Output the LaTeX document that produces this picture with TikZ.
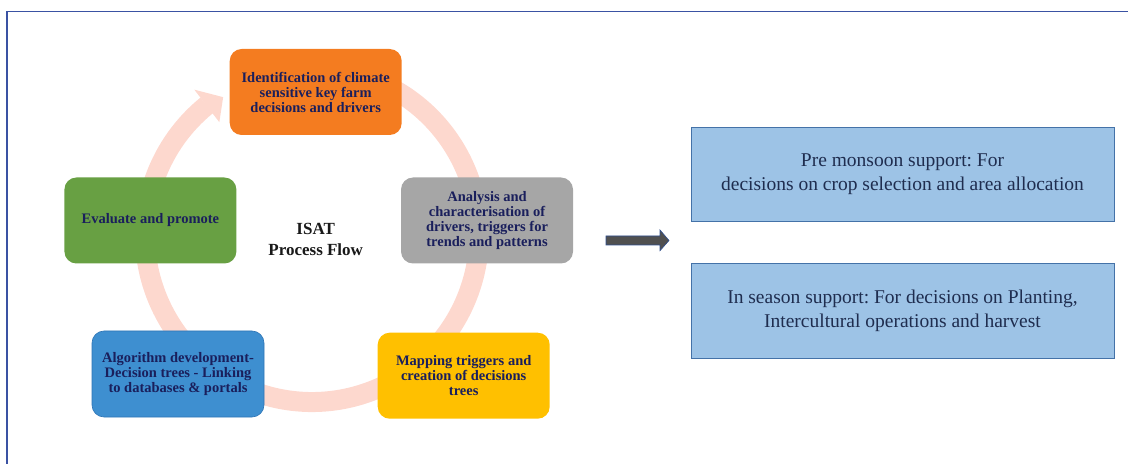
\documentclass[tikz,border=0pt]{standalone}
\usepackage{fontspec}
\setmainfont{Liberation Serif}
\usetikzlibrary{calc}
\definecolor{frameblue}{HTML}{3A52A3}
\definecolor{ringpink}{HTML}{FDD8CE}
\definecolor{corange}{HTML}{F47C20}
\definecolor{cgreen}{HTML}{68A043}
\definecolor{cgray}{HTML}{A6A6A6}
\definecolor{cblue}{HTML}{3E8FD0}
\definecolor{cblueedge}{HTML}{2E75B6}
\definecolor{cyellow}{HTML}{FFC000}
\definecolor{navytext}{HTML}{1A1F5C}
\definecolor{rfill}{HTML}{9DC3E6}
\definecolor{rborder}{HTML}{4472A8}
\definecolor{rtext}{HTML}{1F2D4F}
\definecolor{arrgray}{HTML}{505050}
\definecolor{arrblue}{HTML}{2F4F8F}
\frenchspacing
\begin{document}
\begin{tikzpicture}[x=1pt,y=1pt,
  cyc/.style={rounded corners=12pt, minimum width=172pt, minimum height=86pt,
    align=center, text=navytext, inner sep=4pt,
    font=\fontsize{14.5}{15}\selectfont\bfseries},
  rbox/.style={draw=rborder, fill=rfill, line width=0.9pt, minimum width=423pt,
    minimum height=94.5pt, align=center, text=rtext,
    font=\fontsize{19.5}{24}\selectfont},
  ring/.style={draw=ringpink, line width=20pt}
]
\useasboundingbox (0,0) rectangle (1128,464);
% frame
\coordinate (ftl) at (7,452.5);
\coordinate (ftr) at (1128,452.5);
\coordinate (fbl) at (7,0);
\draw[frameblue, line width=1.4pt] (ftr) -- (ftl) -- (fbl);
% cycle ring
\coordinate (C) at (312,229);
\draw[ring] ($(C)+(70:167)$) arc[start angle=70, end angle=-231, radius=167];
\fill[ringpink] ($(C)+(129:187)$) -- ($(C)+(122.8:164)$) -- ($(C)+(129.4:146)$) -- cycle;
% cycle nodes
\node[cyc, fill=corange] (id) at (315.7,372) {Identification of climate\\sensitive key farm\\decisions and drivers};
\node[cyc, fill=cgray] (an) at (487,243.5) {Analysis and\\characterisation of\\drivers, triggers for\\trends and patterns};
\node[cyc, fill=cyellow] (map) at (463.7,88.3) {Mapping triggers and\\creation of decisions\\trees};
\node[cyc, fill=cblue, draw=cblueedge, line width=0.6pt] (alg) at (178,90) {Algorithm development-\\Decision trees - Linking\\to databases \& portals};
\node[cyc, fill=cgreen] (ev) at (150.4,243.5) {Evaluate and promote};
\node[align=center, font=\fontsize{17}{21}\selectfont\bfseries, text=black!90] (isat) at (315.7,225) {ISAT\\Process Flow};
% block arrow
\fill[arrgray, draw=arrblue, line width=0.6pt] (606,228) -- (660,228) -- (660,234) -- (669,223.5) -- (660,213.3) -- (660,219) -- (606,219) -- cycle;
% right boxes
\node[rbox] (pre) at (902.5,289.75) {Pre monsoon support: For\\decisions on crop selection and area allocation};
\node[rbox] (ins) at (902.5,153) {In season support: For decisions on Planting,\\Intercultural operations and harvest};
\end{tikzpicture}
\end{document}
